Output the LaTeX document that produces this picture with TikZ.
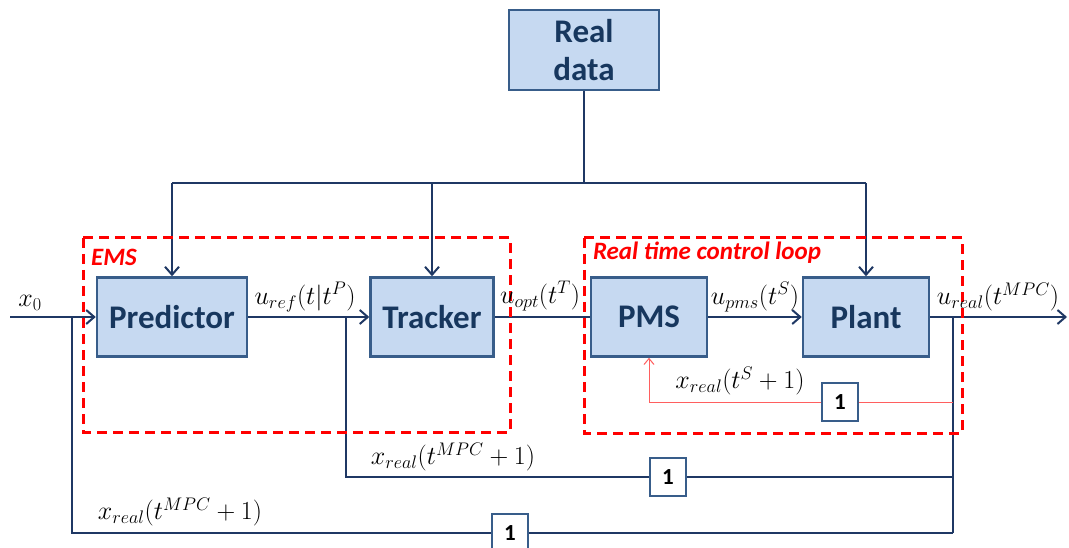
\documentclass[tikz,border=0pt]{standalone}
\usepackage{fix-cm}
\usepackage{fontspec}
\setsansfont{Carlito}
\usepackage{tikz}
\usetikzlibrary{arrows.meta}

\definecolor{boxfill}{RGB}{198,217,241}
\definecolor{boxline}{RGB}{56,93,138}
\definecolor{navy}{RGB}{31,56,100}
\definecolor{boxtext}{RGB}{23,55,94}
\definecolor{loopred}{RGB}{255,95,95}

\tikzset{
  block/.style={rectangle, draw=boxline, line width=2.5pt, fill=boxfill, inner sep=0pt, minimum height=79pt, text=boxtext, font=\fontsize{33}{38}\selectfont\sffamily\bfseries},
  delay/.style={rectangle, draw=boxline, line width=2.5pt, fill=white, inner sep=0pt, minimum width=36pt, minimum height=38pt, font=\fontsize{23}{24}\selectfont\sffamily\bfseries},
  sig/.style={draw=navy, line width=2pt},
  sigarr/.style={sig, -{Straight Barb[length=8pt, width=14pt, line width=2pt]}},
  fbred/.style={draw=loopred, line width=1pt},
  fbredarr/.style={fbred, -{Straight Barb[length=6pt, width=10pt, line width=1pt]}},
  zone/.style={draw=red, line width=3pt, dash pattern=on 10pt off 6pt},
  zonelabel/.style={text=red, inner sep=0pt, font=\fontsize{25}{27}\selectfont\sffamily\bfseries\itshape},
  lbl/.style={inner sep=0pt, font=\fontsize{26}{28}\selectfont},
}

\begin{document}
\begin{tikzpicture}[x=1pt, y=-1pt]
\useasboundingbox (0,0) rectangle (1069,548);

% blocks
\node[block, minimum width=150pt, minimum height=80pt, align=center] (realdata) at (584,50) {Real\\data};
\node[block, minimum width=150pt] (predictor) at (172,317) {Predictor};
\node[block, minimum width=123pt] (tracker) at (432,317) {Tracker};
\node[block, minimum width=116pt] (pms) at (649,317) {PMS};
\node[block, minimum width=126pt] (plant) at (866,317) {Plant};

% unit delays
\node[delay] (dpms) at (840,402) {1};
\node[delay] (dtrk) at (668,477) {1};
\node[delay] (dpred) at (510,533) {1};

% junctions
\coordinate (bus) at (584,183);
\coordinate (in) at (10,317);
\coordinate (out) at (1067,317);
\coordinate (tap) at (953,317);
\coordinate (jpred) at (72,317);
\coordinate (jtrk) at (346,317);
\coordinate (bottom) at (953,533);

% real data distribution
\draw[sig] (realdata) -- (bus);
\draw[sig] (predictor.north |- bus) -- (plant.north |- bus);
\draw[sigarr] (predictor.north |- bus) -- (predictor.north);
\draw[sigarr] (tracker.north |- bus) -- (tracker.north);
\draw[sigarr] (plant.north |- bus) -- (plant.north);

% forward path
\draw[sigarr] (in) -- (predictor);
\draw[sigarr] (predictor) -- (tracker);
\draw[sig] (tracker) -- (pms);
\draw[sigarr] (pms) -- (plant);
\draw[sigarr] (plant) -- (out);

% feedback paths
\draw[sig] (tap) -- (bottom);
\draw[sig] (tap |- dtrk) -- (dtrk) -| (jtrk);
\draw[sig] (bottom) -- (dpred) -| (jpred);
\draw[fbred] (tap |- dpms) -- (dpms);
\draw[fbredarr] (dpms) -| (pms.south);

% zones
\draw[zone] (83,238) rectangle (510,432);
\draw[zone] (584,238) rectangle (962,433);
\node[zonelabel] (emslbl) at (114,257) {EMS};
\node[zonelabel] (rtclbl) at (707,253) {Real time control loop};

% signal labels
\node[lbl] (lx0) at (30,303) {$x_0$};
\node[lbl] (lref) at (305,297) {$u_{ref}(t|t^P)$};
\node[lbl] (lopt) at (540,296) {$u_{opt}(t^T)$};
\node[lbl] (lpms) at (755,297) {$u_{pms}(t^S)$};
\node[lbl] (lreal) at (998,297) {$u_{real}(t^{MPC})$};
\node[lbl] (lxs) at (740,381) {$x_{real}(t^S+1)$};
\node[lbl] (lxtrk) at (453,457) {$x_{real}(t^{MPC}+1)$};
\node[lbl] (lxpred) at (180,512) {$x_{real}(t^{MPC}+1)$};
\end{tikzpicture}
\end{document}
